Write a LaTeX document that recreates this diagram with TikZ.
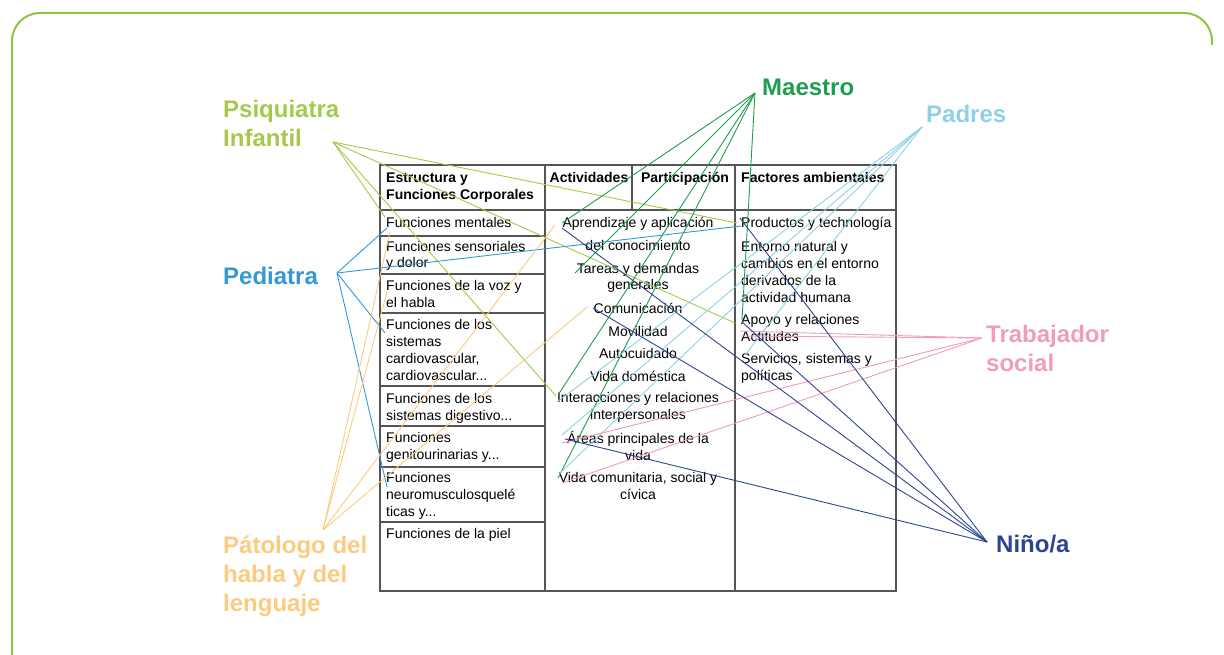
\documentclass[tikz,border=0pt]{standalone}
\usepackage{fontspec}
\setmainfont{Liberation Sans}
\definecolor{framegreen}{HTML}{8CC63F}
\definecolor{tablegray}{HTML}{555555}
\definecolor{cpsiq}{HTML}{A6C94B}
\definecolor{cmaestro}{HTML}{1E9E4E}
\definecolor{cpadres}{HTML}{8ED1E6}
\definecolor{cpediatra}{HTML}{3399D6}
\definecolor{ctrabajo}{HTML}{F19BBD}
\definecolor{cnino}{HTML}{2C4593}
\definecolor{cpato}{HTML}{FCCB80}
\begin{document}
\begin{tikzpicture}[x=1pt,y=-1pt,
  % multi-line nodes sit on the baseline of their last line
  cell/.style={anchor=base west, inner sep=0pt, font=\fontsize{14}{17}\selectfont, align=left},
  mid/.style={anchor=base, inner sep=0pt, font=\fontsize{14}{17}\selectfont, align=center},
  head/.style={anchor=base west, inner sep=0pt, font=\bfseries\fontsize{14}{17}\selectfont, align=left},
  role/.style={anchor=base west, inner sep=0pt, font=\bfseries\fontsize{24}{29}\selectfont, align=left},
  grid/.style={draw=tablegray, line width=1.2pt},
  link/.style={line width=0.9pt}
]
\useasboundingbox (0,0) rectangle (1224,655);

% outer frame
\begin{scope}
  \clip (0,0) rectangle (1224,655);
  \draw[framegreen, line width=2pt, rounded corners=28pt]
    (12,680) -- (12,13) -- (1212,13) -- (1212,45);
\end{scope}

% table grid
\draw[grid] (380,165) rectangle (896,591);
\draw[grid] (380,210) -- (896,210);
\draw[grid] (545,165) -- (545,591);
\draw[grid] (735,165) -- (735,591);
\draw[grid] (632,165) -- (632,210);
\foreach \yy in {236,274,313,386,426,467,522}
  \draw[grid] (380,\yy) -- (545,\yy);

% headers
\node[head] (hEst) at (386,200) {Estructura y\\Funciones Corporales};
\node[head, anchor=base] (hAct) at (589,183) {Actividades};
\node[head, anchor=base] (hPar) at (685,183) {Participación};
\node[head] (hFac) at (741,183) {Factores ambientales};

% body functions
\node[cell] (b1) at (386,228) {Funciones mentales};
\node[cell] (b2) at (386,268) {Funciones sensoriales\\y dolor};
\node[cell] (b3) at (386,307) {Funciones de la voz y\\el habla};
\node[cell] (b4) at (386,380) {Funciones de los\\sistemas\\cardiovascular,\\cardiovascular...};
\node[cell] (b5) at (386,420) {Funciones de los\\sistemas digestivo...};
\node[cell] (b6) at (386,459) {Funciones\\genitourinarias y...};
\node[cell] (b7) at (386,516) {Funciones\\neuromusculosquelé\\ticas y...};
\node[cell] (b8) at (386,538) {Funciones de la piel};

% activities and participation
\node[mid] (a1) at (638,228) {Aprendizaje y aplicación};
\node[mid] (a2) at (638,251) {del conocimiento};
\node[mid] (a3) at (638,290) {Tareas y demandas\\generales};
\node[mid] (a4) at (638,313) {Comunicación};
\node[mid] (a5) at (638,336) {Movilidad};
\node[mid] (a6) at (638,358) {Autocuidado};
\node[mid] (a7) at (638,381) {Vida doméstica};
\node[mid] (a8) at (638,419) {Interacciones y relaciones\\interpersonales};
\node[mid] (a9) at (638,460) {Áreas principales de la\\vida};
\node[mid] (a10) at (638,499) {Vida comunitaria, social y\\cívica};

% environmental factors
\node[cell] (f1) at (741,228) {Productos y technología};
\node[cell] (f2) at (741,302) {Entorno natural y\\cambios en el entorno\\derivados de la\\actividad humana};
\node[cell] (f3) at (741,341) {Apoyo y relaciones\\Actitudes};
\node[cell] (f4) at (741,380) {Servicios, sistemas y\\políticas};

% roles
\node[role, cmaestro] (maestro) at (762,96) {Maestro};
\node[role, cpadres] (padres) at (926,123) {Padres};
\node[role, cpsiq] (psiq) at (223,147) {Psiquiatra\\Infantil};
\node[role, cpediatra] (pediatra) at (223,284) {Pediatra};
\node[role, ctrabajo] (trabajo) at (986,371) {Trabajador\\social};
\node[role, cnino] (nino) at (996,552) {Niño/a};
\node[role, cpato] (pato) at (223,611) {Pátologo del\\habla y del\\lenguaje};

% hubs beside the role labels
\coordinate (hMaestro) at (755,93);
\coordinate (hPadres) at (922,127);
\coordinate (hPsiq) at (333,142);
\coordinate (hPediatra) at (337,273);
\coordinate (hTrabajo) at (982,338);
\coordinate (hNino) at (987,542);
\coordinate (hPato) at (323,530);

% end points on the table items
\coordinate (eMentalesA) at (385,217);
\coordinate (eMentalesB) at (387,228);
\coordinate (eMentalesC) at (390,232);
\coordinate (eVoz) at (387,292);
\coordinate (eCardio) at (385,333);
\coordinate (eNeuro) at (387,487);
\coordinate (eAprendA) at (562,223);
\coordinate (eAprendB) at (562,228);
\coordinate (eAprendC) at (555,225);
\coordinate (eTareas) at (575,273);
\coordinate (eComunA) at (593,308);
\coordinate (eComunB) at (587,307);
\coordinate (eInterA) at (556,396);
\coordinate (eInterB) at (558,395);
\coordinate (eInterC) at (557,402);
\coordinate (eAreasA) at (562,435);
\coordinate (eAreasB) at (565,439);
\coordinate (eAreasC) at (562,443);
\coordinate (eComunitA) at (558,478);
\coordinate (eComunitB) at (559,474);
\coordinate (eComunitC) at (562,483);
\coordinate (eProdA) at (737,223);
\coordinate (eProdB) at (741,226);
\coordinate (eProdC) at (740,218);
\coordinate (eApoyoA) at (735,323);
\coordinate (eApoyoB) at (742,320);
\coordinate (eApoyoC) at (742,322);
\coordinate (eApoyoD) at (740,331);
\coordinate (eActit) at (740,336);
\coordinate (eServ) at (745,355);

% Psiquiatra Infantil
\draw[link, cpsiq] (hPsiq) -- (eMentalesA);
\draw[link, cpsiq] (hPsiq) -- (eInterA);
\draw[link, cpsiq] (hPsiq) -- (eProdA);
\draw[link, cpsiq] (hPsiq) -- (eApoyoA);

% Maestro
\draw[link, cmaestro] (hMaestro) -- (eAprendA);
\draw[link, cmaestro] (hMaestro) -- (eTareas);
\draw[link, cmaestro] (hMaestro) -- (eInterB);
\draw[link, cmaestro] (hMaestro) -- (eComunitA);
\draw[link, cmaestro] (hMaestro) -- (eApoyoB);

% Padres
\draw[link, cpadres] (hPadres) -- (eInterC);
\draw[link, cpadres] (hPadres) -- (eAreasA);
\draw[link, cpadres] (hPadres) -- (eComunitB);
\draw[link, cpadres] (hPadres) -- (eServ);

% Pediatra
\draw[link, cpediatra] (hPediatra) -- (eMentalesB);
\draw[link, cpediatra] (hPediatra) -- (eProdB);
\draw[link, cpediatra] (hPediatra) -- (eCardio);
\draw[link, cpediatra] (hPediatra) -- (eNeuro);

% Trabajador social
\draw[link, ctrabajo] (hTrabajo) -- (eApoyoD);
\draw[link, ctrabajo] (hTrabajo) -- (eActit);
\draw[link, ctrabajo] (hTrabajo) -- (eAreasC);
\draw[link, ctrabajo] (hTrabajo) -- (eComunitC);

% Niño/a
\draw[link, cnino] (hNino) -- (eProdC);
\draw[link, cnino] (hNino) -- (eApoyoC);
\draw[link, cnino] (hNino) -- (eAprendB);
\draw[link, cnino] (hNino) -- (eComunA);
\draw[link, cnino] (hNino) -- (eAreasB);

% Patologo del habla y del lenguaje
\draw[link, cpato] (hPato) -- (eMentalesC);
\draw[link, cpato] (hPato) -- (eVoz);
\draw[link, cpato] (hPato) -- (eAprendC);
\draw[link, cpato] (hPato) -- (eComunB);
\end{tikzpicture}
\end{document}
